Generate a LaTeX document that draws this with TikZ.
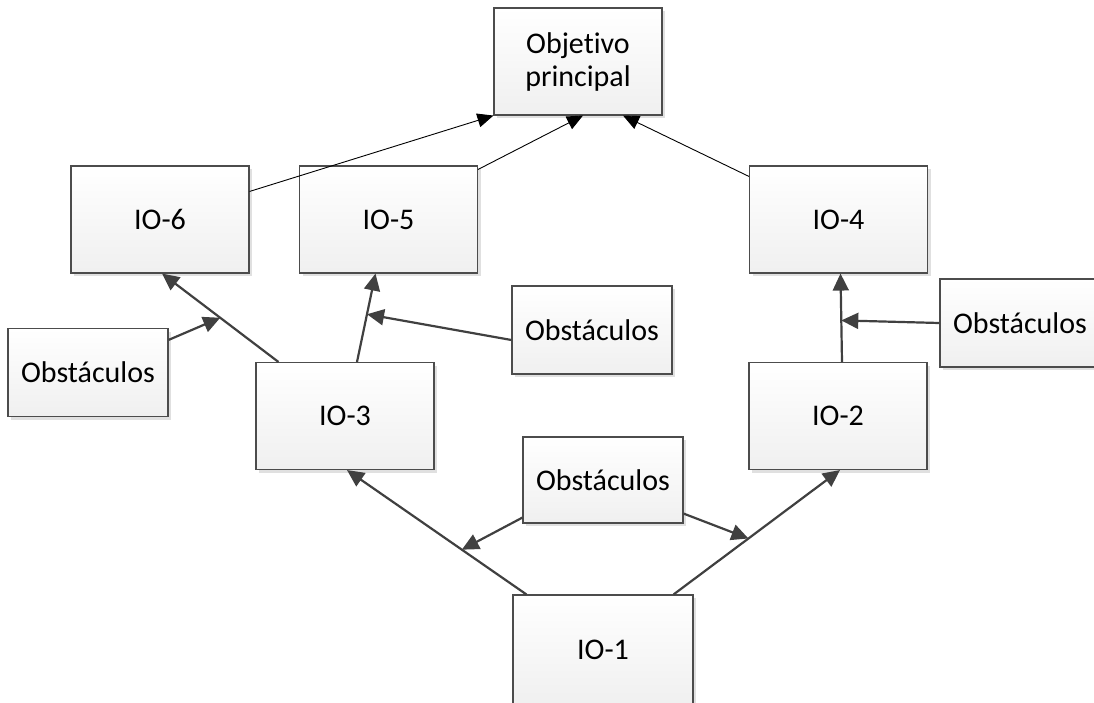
\documentclass[tikz,border=0pt]{standalone}
\usepackage{fontspec}
\setmainfont{Carlito}[Ligatures={NoCommon}]
\usetikzlibrary{arrows.meta, shadows}

\begin{document}
\begin{tikzpicture}[x=1pt, y=-1pt,
    box/.style={draw=black!70, line width=1.1pt, top color=white, bottom color=black!6,
        drop shadow={shadow xshift=3pt, shadow yshift=-3pt, fill=black!12, opacity=1},
        align=center, inner sep=0pt, font=\fontsize{30}{33}\selectfont},
    io/.style={box, minimum width=178pt, minimum height=107pt},
    obst/.style={box, minimum width=160pt, minimum height=88pt},
    heavy/.style={draw=black!75, line width=2.2pt, -{Triangle[length=17pt, width=16pt]}},
    light/.style={draw=black, line width=0.9pt, -{Triangle[length=16pt, width=14pt]}}]
        \useasboundingbox (0, 0) rectangle (1094, 702);

        \node [box, minimum width=168pt, minimum height=107pt] (obj) at (578, 61.5) {Objetivo\\principal};
        \node [io] (io6) at (160, 219.5) {IO-6};
        \node [io] (io5) at (388.5, 219.5) {IO-5};
        \node [io] (io4) at (838.5, 219.5) {IO-4};
        \node [io] (io3) at (345, 416) {IO-3};
        \node [io] (io2) at (838, 416) {IO-2};
        \node [io, minimum width=180pt, minimum height=110pt] (io1) at (603, 650) {IO-1};

        \node [obst] (obleft) at (88, 372.5) {Obstáculos};
        \node [obst] (obmid) at (592, 330) {Obstáculos};
        \node [obst] (obright) at (1020, 323) {Obstáculos};
        \node [obst, minimum height=86pt] (oblow) at (603, 480) {Obstáculos};

        \draw [heavy] ([xshift=14pt]io1.north west) -- ([xshift=2pt]io3.south) coordinate[pos=0.36] (m13);
        \draw [heavy] ([xshift=-20pt]io1.north east) -- ([xshift=2pt]io2.south) coordinate[pos=0.45] (m12);
        \draw [heavy] ([yshift=6pt]oblow.south west) -- (m13);
        \draw [heavy] ([yshift=10pt]oblow.south east) -- (m12);

        \draw [heavy] ([xshift=23pt]io3.north west) -- ([xshift=2pt]io6.south) coordinate[pos=0.5] (m36);
        \draw [heavy] (obleft.north east) ++(0, 12) -- (m36);
        \draw [heavy] ([xshift=12pt]io3.north) -- ([xshift=-13pt]io5.south) coordinate[pos=0.54] (m35);
        \draw [heavy] ([yshift=-10pt]obmid.west) -- (m35);
        \draw [heavy] ([xshift=4pt]io2.north) -- ([xshift=2pt]io4.south) coordinate[pos=0.47] (m24);
        \draw [heavy] (obright.west) -- (m24);

        \draw [light] ([yshift=-26pt]io6.north east) -- (obj.south west);
        \draw [light] ([yshift=-4pt]io5.north east) -- ([xshift=5pt]obj.south);
        \draw [light] ([yshift=-11pt]io4.north west) -- ([xshift=45pt]obj.south);
\end{tikzpicture}
\end{document}
